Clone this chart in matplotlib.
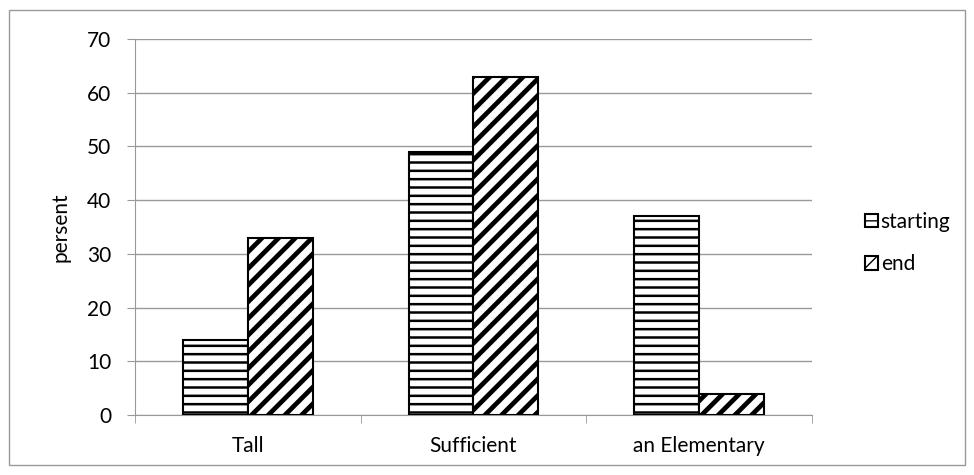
import matplotlib
matplotlib.use("Agg")
import matplotlib.pyplot as plt
from matplotlib.patches import Rectangle
import numpy as np

categories = ["Tall", "Sufficient", "an Elementary"]
starting = [14, 49, 37]
end = [33, 63, 4]
yticks = [0, 10, 20, 30, 40, 50, 60, 70]

plt.rcParams['font.family'] = ['Lato', 'DejaVu Sans']

fig = plt.figure(figsize=(9.74, 4.75), dpi=100)
ax = fig.add_axes([135/974, 1-415/475, (812-135)/974, (415-39)/475])

x = np.arange(len(categories))
w = 0.288
with plt.rc_context({'hatch.linewidth': 1.8}):
    b1 = ax.bar(x - w/2, starting, w, facecolor='white', edgecolor='black', hatch='--',
                linewidth=1.5, label='starting', zorder=3)
    for p in b1:
        if hasattr(p, 'set_hatch_linewidth'):
            p.set_hatch_linewidth(1.8)
with plt.rc_context({'hatch.linewidth': 3.4}):
    b2 = ax.bar(x + w/2, end, w, facecolor='white', edgecolor='black', hatch='//',
                linewidth=1.5, label='end', zorder=3)
    for p in b2:
        if hasattr(p, 'set_hatch_linewidth'):
            p.set_hatch_linewidth(3.4)

ax.set_xlim(-0.5, len(categories) - 0.5)
ax.set_ylim(0, 70)
ax.set_yticks(yticks)
ax.set_xticks(x)
ax.set_xticklabels(categories, fontsize=15)
ax.set_xticks(np.arange(-0.5, len(categories)), minor=True)
ax.tick_params(axis='x', which='major', length=0, pad=15)
ax.tick_params(axis='x', which='minor', length=6, color='#999999', direction='out')
ax.tick_params(axis='y', length=6, color='#999999', labelsize=15, pad=11)
ax.grid(axis='y', color='#999999', linewidth=1, zorder=0)
for s in ['top', 'right']:
    ax.spines[s].set_visible(False)
for s in ['left', 'bottom']:
    ax.spines[s].set_color('#999999')
ax.set_ylabel('persent', fontsize=15, labelpad=12)

leg = fig.legend(loc='center left', bbox_to_anchor=(865/974, 1-243/475), frameon=False,
                 fontsize=15, handlelength=0.6, handleheight=0.6, handletextpad=0.15,
                 labelspacing=1.1, borderaxespad=0, borderpad=0)

fig.patches.append(Rectangle((9/974, 10/475), (965-9)/974, (465-10)/475, transform=fig.transFigure,
                             fill=False, edgecolor='#999999', linewidth=1))
fig.savefig('out.png', dpi=100)
